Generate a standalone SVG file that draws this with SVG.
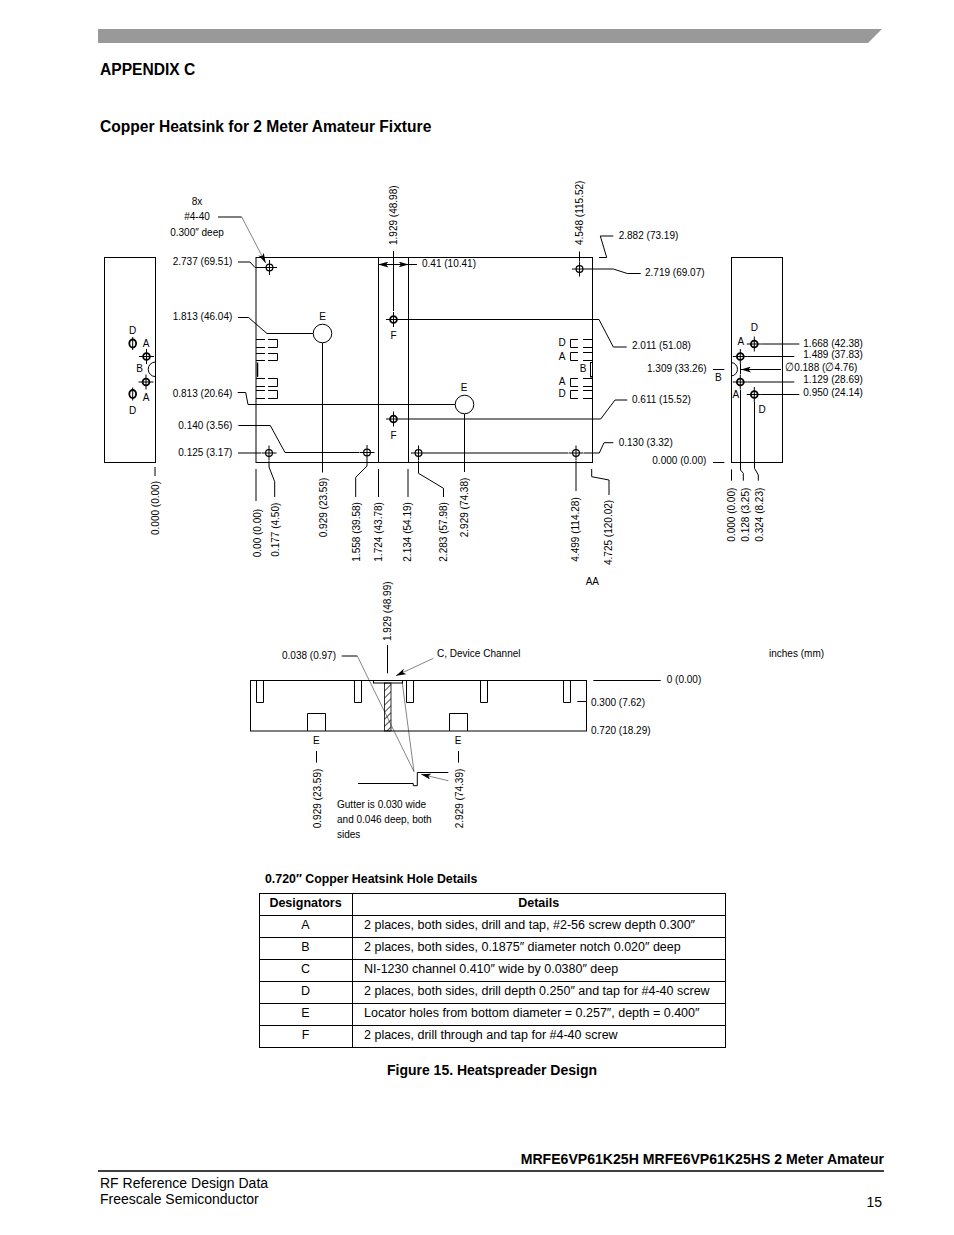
<svg xmlns="http://www.w3.org/2000/svg" width="954" height="1235" viewBox="0 0 954 1235">
<style>
text{font-family:"Liberation Sans",Arial,sans-serif;fill:#000}
.n{font-size:11.8px;transform:scaleX(.85);transform-box:fill-box;transform-origin:0 0}
.c{text-anchor:middle}
.n.c{transform-origin:50% 0}
.r{text-anchor:end}
.n.r{transform-origin:100% 0}
.b{font-weight:bold}
.h1{font-size:15.6px;font-weight:bold}
.tb{font-size:12.5px}
.tt{font-size:12.35px;font-weight:bold}
.f{font-size:14px}
.cap{font-size:14px;font-weight:bold}
.foot{font-size:14.08px;font-weight:bold}
.l{fill:none;stroke:#000;stroke-width:1}
.th{fill:none;stroke:#333;stroke-width:.6}
</style>
<defs>
<g id="hole"><circle r="3.4" fill="none" stroke="#000" stroke-width="1.2"/><path d="M-7.500 0H7.500M0-7.500V7.500" stroke="#000" stroke-width="1"/></g>
<g id="hole2"><circle r="3.400" fill="none" stroke="#000" stroke-width="1.800"/><path d="M-7.500 0H7.500M0-7.500V7.500" stroke="#000" stroke-width="1"/></g>
<g id="phi"><ellipse rx="3.4" ry="4" fill="none" stroke="#000" stroke-width="1.8"/><path d="M0-6.500V6.500" stroke="#000" stroke-width="1"/></g>
<marker id="ar" viewBox="0 0 10 6" refX="10" refY="3" markerWidth="10" markerHeight="6" markerUnits="userSpaceOnUse" orient="auto-start-reverse"><path d="M0 0L10 3L0 6L2.500 3Z" fill="#000"/></marker>
<pattern id="hatch" width="5" height="5" patternUnits="userSpaceOnUse" patternTransform="rotate(-45)"><path d="M0 0H5" stroke="#000" stroke-width="1.400"/></pattern>
</defs>

<g id="page-header">
<polygon points="98,29 882,29 868,43 98,43" fill="#999"/>
<text x="100" y="75" class="h1">APPENDIX C</text>
<text x="100" y="132" class="h1">Copper Heatsink for 2 Meter Amateur Fixture</text>
</g>

<g id="left-view">
<rect class="l" x="104.500" y="257.500" width="51" height="205"/>
<path class="l" d="M155.500 362A7.300 7.300 0 0 0 155.500 376.600"/>
<use href="#phi" x="132.700" y="343.500"/><use href="#phi" x="132.700" y="394"/>
<use href="#hole2" x="146.500" y="356.500"/><use href="#hole2" x="146" y="382"/>
<text class="n c" x="132.500" y="334">D</text><text class="n c" x="146" y="347">A</text><text class="n c" x="139.700" y="372">B</text><text class="n c" x="146" y="401">A</text><text class="n c" x="132.500" y="414">D</text>
</g>

<g id="top-view">
<rect class="l" x="256" y="257.500" width="336.500" height="205"/>
<path class="l" d="M378.500 257.500V462.500M408.500 257.500V462.500"/>
<path class="l" d="M256 339.500H265M268 339.500H277.500V347.500H268M265 347.500H256M256 353.500H265M268 353.500H277.500V360.500H268M265 360.500H256M256 378.500H265M268 378.500H277.500V386.500H268M265 386.500H256M256 390.500H265M268 390.500H277.500V398.500H268M265 398.500H256"/>
<path d="M257.500 362.500V377" stroke="#000" stroke-width="1.500"/>
<path class="l" d="M592 339.500H583M578 339.500H570.500V347.500H578M583 347.500H592M592 352.500H583M578 352.500H570.500V360.500H578M583 360.500H592M592 378.500H583M578 378.500H570.500V386.500H578M583 386.500H592M592 390.500H583M578 390.500H570.500V398.500H578M583 398.500H592"/>
<rect class="l" x="590.500" y="362.500" width="2" height="14.500"/>
<text class="n c" x="562" y="346">D</text><text class="n c" x="562" y="360">A</text><text class="n c" x="583" y="372">B</text><text class="n c" x="562" y="385">A</text><text class="n c" x="562" y="397">D</text>
</g>

<g id="hole-E1"><circle class="l" cx="322.500" cy="333.500" r="9.300"/><text class="n c" x="322.700" y="320">E</text></g>
<g id="hole-E2"><circle class="l" cx="464.500" cy="404.500" r="9.300"/><text class="n c" x="464" y="391">E</text></g>
<g id="hole-F1"><use href="#hole2" x="393.500" y="319.500"/><text class="n c" x="393.500" y="339">F</text></g>
<g id="hole-F2"><use href="#hole2" x="393.500" y="419"/><text class="n c" x="393.500" y="439">F</text></g>
<g id="top-holes">
<use href="#hole" x="269.500" y="267.500"/><use href="#hole" x="579.500" y="269"/>
<use href="#hole" x="269" y="453"/><use href="#hole" x="367" y="452.500"/>
<use href="#hole" x="418.500" y="453"/><use href="#hole" x="576" y="453"/>
</g>

<g id="right-view">
<rect class="l" x="731.500" y="257.500" width="51" height="205"/>
<path class="l" d="M731.500 362.500A6.800 6.800 0 0 1 731.500 376"/>
<use href="#hole2" x="754.300" y="344"/><use href="#hole2" x="740.300" y="356.500"/>
<use href="#hole2" x="740.300" y="382"/><use href="#hole2" x="754.300" y="394.500"/>
<text class="n c" x="754.300" y="331">D</text><text class="n c" x="740.700" y="345">A</text><text class="n c" x="718.300" y="381">B</text><text class="n c" x="735.700" y="398.500">A</text><text class="n c" x="762" y="413">D</text>
</g>

<g id="connectors">
<path class="l" d="M218 217H241.700"/>
<path class="th" marker-end="url(#ar)" d="M241.700 217L265.700 263"/>
<path class="l" d="M238 262H250L255 267.500H262"/>
<path class="l" d="M393.500 251V311"/>
<path class="l" marker-start="url(#ar)" marker-end="url(#ar)" d="M378.500 264.500H408.500"/>
<path class="l" d="M408.500 264.500H417"/>
<path class="l" d="M238 317.500H248.500L267 333.500H313"/>
<path class="l" d="M322.500 343V472.500"/>
<path class="l" d="M237.700 392.500H245.700L248 404.500H455"/>
<path class="l" d="M238.300 425.500H270.300L285 452.500H359"/>
<path class="l" d="M238 453H261"/>
<path class="l" d="M269 461V467L274.700 481.700V497"/>
<path class="l" d="M367 460V466L355.700 477.300V497"/>
<path class="l" d="M256 469V501"/>
<path class="l" d="M155 467V476"/>
<path class="l" d="M378.500 469V497"/>
<path class="l" d="M408 469V497"/>
<path class="l" d="M464.500 414V472"/>
<path class="l" d="M418.500 461V473.300L443.500 488.300V497"/>
<path class="l" d="M576 461V491"/>
<path class="l" d="M591.700 469V476.700L609 480V495"/>
<path class="l" d="M579.500 251.500V261"/>
<path class="l" d="M587 269H613.300L627.300 273.500H640.700"/>
<path class="l" d="M599 257.500H606.700L600.300 236H613.300"/>
<path class="l" d="M401 319.500H599L613.300 347H626.700"/>
<path class="l" d="M401 419H600.700L615 400H627.300"/>
<path class="l" d="M426 453H568M584 453H599.300L604 442.700H613.300"/>
<path class="l" d="M799.300 344H762M794.300 356.500H748M794.300 382H748M799.300 394.500H762"/>
<path class="l" marker-end="url(#ar)" d="M781 369.500H741"/>
<path class="l" d="M713 369.500H724.300M713 462.500H724.300M731.500 469.300V480.700"/>
<path class="l" d="M740.500 364V374M740.500 390V470L743.300 473.300V480.700"/>
<path class="l" d="M754.500 402V468.300L758.300 475V480.700"/>
<path class="l" d="M387.500 645V673.300"/>
<path class="l" d="M341.700 656H357.300"/>
<path class="th" d="M357.300 656L414 771.700M402.300 683L414 771.700"/>
<path class="th" marker-end="url(#ar)" d="M433.300 658.300L396 675.700"/>
<path class="th" marker-end="url(#ar)" d="M448.300 780.700L421 774.300"/>
<path class="l" d="M358 783.500H413.300V785.700H417.300V772.500H448.300"/>
<path class="l" d="M316.500 751V762.700M458.500 751V762.700"/>
<path class="l" d="M593.300 680.500H660.700M577.300 701.500H586.700"/>
</g>

<g id="section-view">
<rect class="l" x="250.500" y="680.500" width="336" height="50.500"/>
<path class="l" d="M256.500 680.500V702.500H263.500V680.500M354.500 680.500V702.500H361.500V680.500M406.500 680.500V702.500H413.500V680.500M480.500 680.500V702.500H487.500V680.500M563.500 680.500V702.500H570.500V680.500"/>
<path class="l" d="M307.500 731V713.500H325.500V731M449.500 731V713.500H467.500V731"/>
<rect x="373.500" y="680.500" width="29" height="2.500" fill="#fff" stroke="#000"/>
<rect x="384.500" y="683" width="6.500" height="48" fill="url(#hatch)" stroke="#000" stroke-width=".8"/>
<text class="n c" x="316.300" y="744.500">E</text><text class="n c" x="458" y="744.500">E</text>
</g>

<g id="dimensions">
<text class="n c" x="197" y="205">8x</text>
<text class="n c" x="197" y="220.500">#4-40</text>
<text class="n c" x="197" y="236">0.300″ deep</text>
<text class="n r" x="232.300" y="265.500">2.737 (69.51)</text>
<text class="n r" x="232.300" y="320">1.813 (46.04)</text>
<text class="n r" x="232.300" y="397">0.813 (20.64)</text>
<text class="n r" x="232.300" y="429">0.140 (3.56)</text>
<text class="n r" x="232.300" y="456">0.125 (3.17)</text>
<text class="n" x="422" y="267.300">0.41 (10.41)</text>
<text class="n" x="618.700" y="239">2.882 (73.19)</text>
<text class="n" x="645" y="275.700">2.719 (69.07)</text>
<text class="n" x="632" y="348.700">2.011 (51.08)</text>
<text class="n" x="647" y="371.700">1.309 (33.26)</text>
<text class="n" x="632" y="402.700">0.611 (15.52)</text>
<text class="n" x="618.700" y="445.700">0.130 (3.32)</text>
<text class="n r" x="706.300" y="464.500">0.000 (0.00)</text>
<text class="n" x="803.300" y="346.700">1.668 (42.38)</text>
<text class="n" x="803.300" y="358.300">1.489 (37.83)</text>
<text class="n" x="785" y="370.700">∅0.188 (∅4.76)</text>
<text class="n" x="803.300" y="383.300">1.129 (28.69)</text>
<text class="n" x="803.300" y="396">0.950 (24.14)</text>
<g transform="translate(397,245) rotate(-90)"><text class="n">1.929 (48.98)</text></g>
<g transform="translate(582.700,245) rotate(-90)"><text class="n">4.548 (115.52)</text></g>
<g transform="translate(158.500,535) rotate(-90)"><text class="n">0.000 (0.00)</text></g>
<g transform="translate(260.700,557.300) rotate(-90)"><text class="n">0.00 (0.00)</text></g>
<g transform="translate(279,556.700) rotate(-90)"><text class="n">0.177 (4.50)</text></g>
<g transform="translate(326.700,537.300) rotate(-90)"><text class="n">0.929 (23.59)</text></g>
<g transform="translate(360,561.700) rotate(-90)"><text class="n">1.558 (39.58)</text></g>
<g transform="translate(381.700,561.700) rotate(-90)"><text class="n">1.724 (43.78)</text></g>
<g transform="translate(411,561.700) rotate(-90)"><text class="n">2.134 (54.19)</text></g>
<g transform="translate(446.700,561.700) rotate(-90)"><text class="n">2.283 (57.98)</text></g>
<g transform="translate(468.300,537.300) rotate(-90)"><text class="n">2.929 (74.38)</text></g>
<g transform="translate(579,561.700) rotate(-90)"><text class="n">4.499 (114.28)</text></g>
<g transform="translate(612.300,565) rotate(-90)"><text class="n">4.725 (120.02)</text></g>
<g transform="translate(735,541.700) rotate(-90)"><text class="n">0.000 (0.00)</text></g>
<g transform="translate(748.500,541.700) rotate(-90)"><text class="n">0.128 (3.25)</text></g>
<g transform="translate(762.700,541.700) rotate(-90)"><text class="n">0.324 (8.23)</text></g>
<text class="n c" x="592.300" y="585">AA</text>
<g transform="translate(391,641) rotate(-90)"><text class="n">1.929 (48.99)</text></g>
<text class="n" x="282" y="659">0.038 (0.97)</text>
<text class="n" x="437" y="657.500">C, Device Channel</text>
<text class="n" x="769" y="657">inches (mm)</text>
<text class="n" x="666.700" y="683">0 (0.00)</text>
<text class="n" x="591" y="706">0.300 (7.62)</text>
<text class="n" x="591" y="734">0.720 (18.29)</text>
<g transform="translate(320.700,828.300) rotate(-90)"><text class="n">0.929 (23.59)</text></g>
<g transform="translate(462.700,828.300) rotate(-90)"><text class="n">2.929 (74.39)</text></g>
<text class="n" x="337" y="807.700">Gutter is 0.030 wide</text>
<text class="n" x="337" y="822.700">and 0.046 deep, both</text>
<text class="n" x="337" y="838.300">sides</text>
</g>

<g id="details-table">
<text class="tt" x="265" y="883">0.720″ Copper Heatsink Hole Details</text>
<rect class="l" x="259.500" y="893.500" width="466" height="154"/>
<path class="l" d="M352.500 893.500V1047.500M259.500 915.500H725.500M259.500 937.500H725.500M259.500 959.500H725.500M259.500 981.500H725.500M259.500 1003.500H725.500M259.500 1025.500H725.500"/>
<text class="tb b c" x="305.500" y="907">Designators</text>
<text class="tb b c" x="538.700" y="907">Details</text>
<text class="tb c" x="305.500" y="929">A</text><text class="tb" x="364" y="929">2 places, both sides, drill and tap, #2-56 screw depth 0.300″</text>
<text class="tb c" x="305.500" y="951">B</text><text class="tb" x="364" y="951">2 places, both sides, 0.1875″ diameter notch 0.020″ deep</text>
<text class="tb c" x="305.500" y="973">C</text><text class="tb" x="364" y="973">NI-1230 channel 0.410″ wide by 0.0380″ deep</text>
<text class="tb c" x="305.500" y="995">D</text><text class="tb" x="364" y="995">2 places, both sides, drill depth 0.250″ and tap for #4-40 screw</text>
<text class="tb c" x="305.500" y="1017">E</text><text class="tb" x="364" y="1017">Locator holes from bottom diameter = 0.257″, depth = 0.400″</text>
<text class="tb c" x="305.500" y="1039">F</text><text class="tb" x="364" y="1039">2 places, drill through and tap for #4-40 screw</text>
<text class="cap c" x="492" y="1075">Figure 15. Heatspreader Design</text>
</g>

<g id="page-footer">
<text class="foot r" x="884" y="1164">MRFE6VP61K25H MRFE6VP61K25HS 2 Meter Amateur</text>
<path d="M98 1171H884" stroke="#000" stroke-width="1.500"/>
<text class="f" x="100" y="1188">RF Reference Design Data</text>
<text class="f" x="100" y="1204">Freescale Semiconductor</text>
<text class="f r" x="882" y="1207">15</text>
</g>
</svg>
